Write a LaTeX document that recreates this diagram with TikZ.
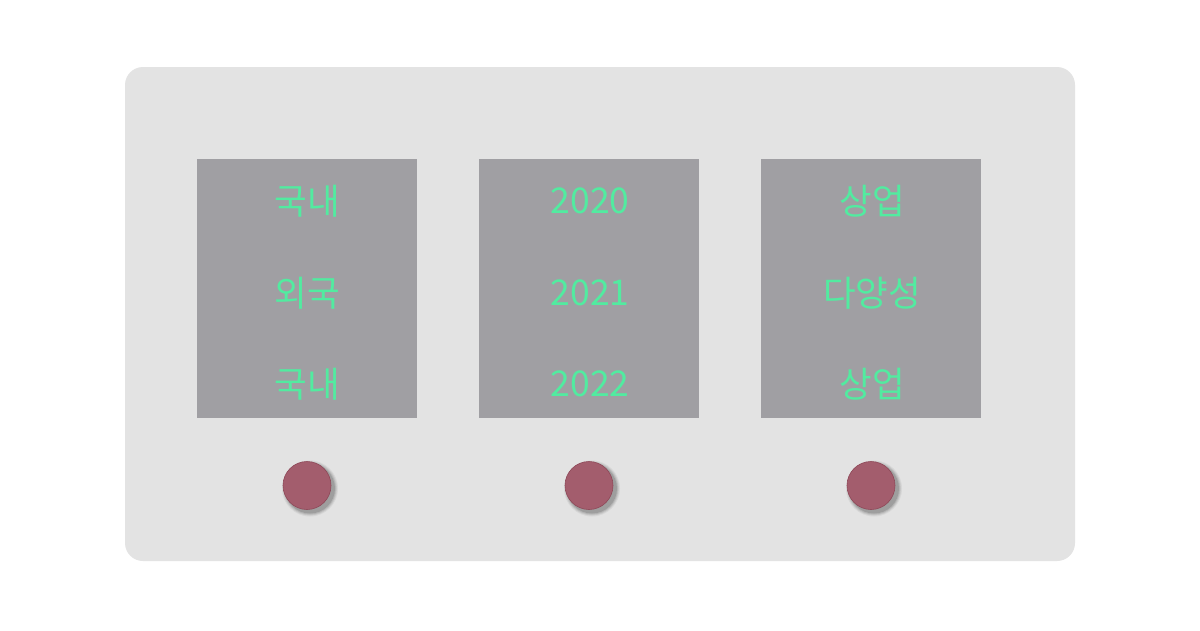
\documentclass[tikz,border=0pt]{standalone}
\usepackage{fontspec}
\newfontfamily\cjk{Noto Sans CJK KR}
\definecolor{panel}{HTML}{E3E3E3}
\definecolor{boxgray}{HTML}{A09FA3}
\definecolor{txtgreen}{HTML}{52EBA0}
\definecolor{dotred}{HTML}{A35D6D}
\definecolor{dotedge}{HTML}{8E4858}
\tikzset{
  col/.style={fill=boxgray, draw=none, minimum width=220pt, minimum height=259pt, inner sep=0pt},
  lbl/.style={text=txtgreen, font=\cjk\fontsize{35.5}{38}\selectfont, inner sep=0pt, anchor=center},
  dot/.style={circle, fill=dotred, draw=dotedge, line width=0.6pt, minimum size=48pt, inner sep=0pt},
}
\begin{document}
\begin{tikzpicture}[x=1pt,y=-1pt]
\useasboundingbox (0,0) rectangle (1200,630);
\fill[white] (0,0) rectangle (1200,630);
\node[fill=panel, draw=none, rounded corners=18pt, minimum width=950pt, minimum height=494pt, inner sep=0pt] (panel) at (600,314) {};
\node[col] (c1) at (307,288.5) {};
\node[col] (c2) at (589,288.5) {};
\node[col] (c3) at (871,288.5) {};
\node[lbl] (a1) at (307,201) {국내};
\node[lbl] (a2) at (307,293) {외국};
\node[lbl] (a3) at (307,384) {국내};
\node[lbl] (b1) at (590,201) {2020};
\node[lbl] (b2) at (590,293) {2021};
\node[lbl] (b3) at (590,384) {2022};
\node[lbl] (d1) at (872,201) {상업};
\node[lbl] (d2) at (872,293) {다양성};
\node[lbl] (d3) at (872,384) {상업};
\foreach \cx/\nm in {307/p1,589/p2,871/p3}{
  \foreach \r/\o in {28/0.05,27/0.07,26/0.09,25/0.12}{
    \fill[black, opacity=\o] (\cx+3,488.5) circle (\r pt);
  }
  \node[dot] (\nm) at (\cx,485.5) {};
}
\end{tikzpicture}
\end{document}
